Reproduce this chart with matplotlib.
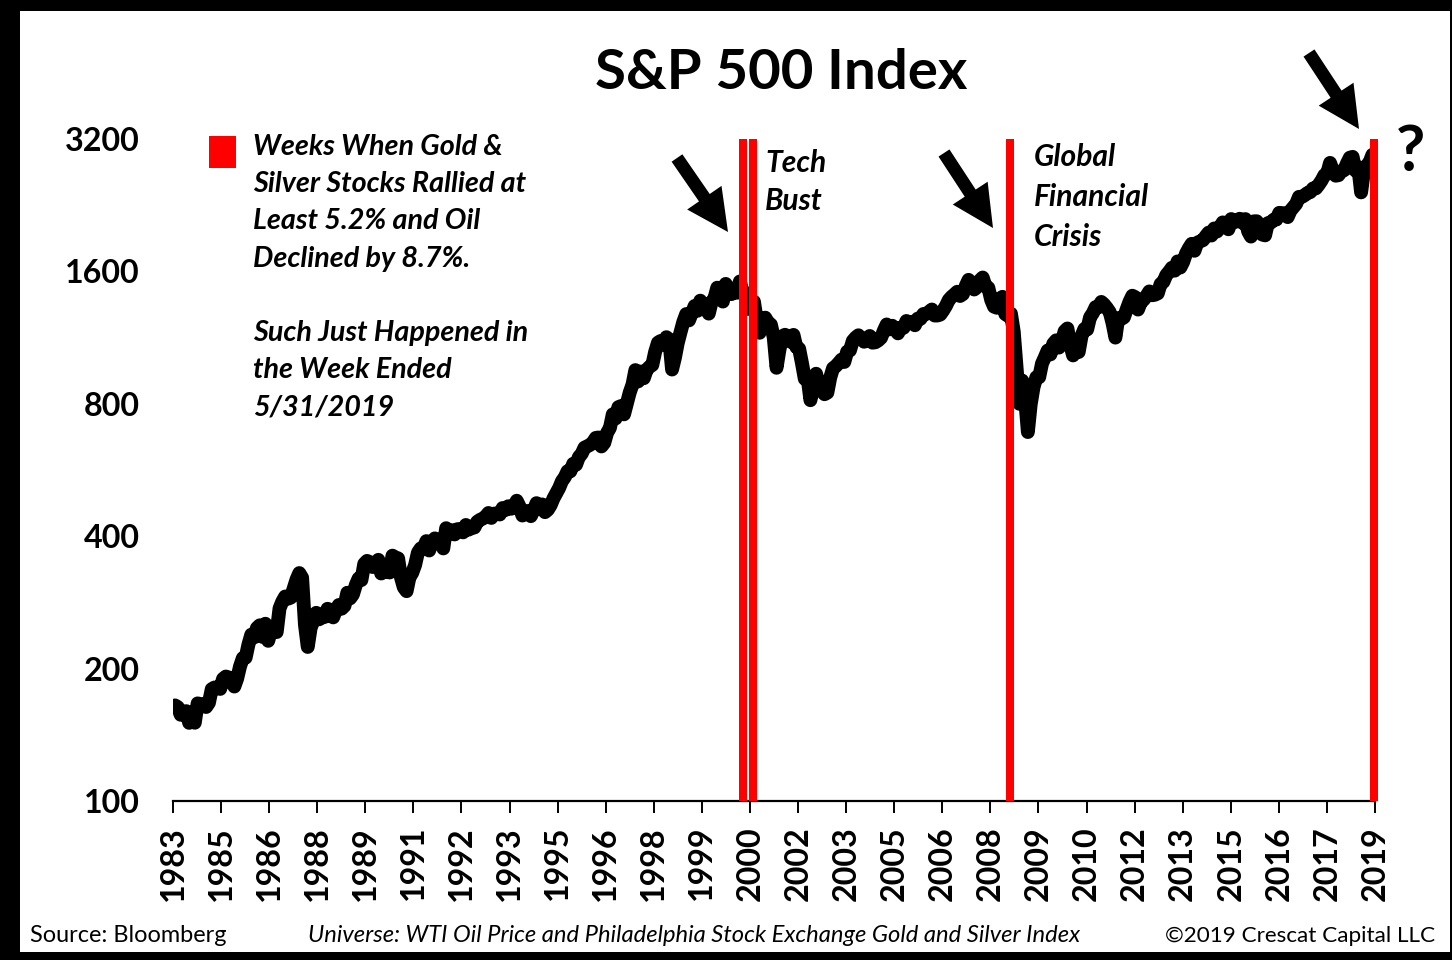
import matplotlib
matplotlib.use('Agg')
import matplotlib.pyplot as plt
import numpy as np
from matplotlib.patches import Rectangle
from matplotlib.ticker import NullLocator

W, H = 1452, 960
FONT = 'Lato'
plt.rcParams['font.family'] = [FONT, 'DejaVu Sans']

# ---------------- data ----------------
# S&P 500 monthly closes (first value = Dec-1983 month end)
first_point_year = 1984.0
sp500_1980s = [164.93,
               163.41, 157.06, 159.18, 160.05, 150.55, 153.18, 150.66, 166.68, 166.10, 166.09, 163.58, 167.24,
               179.63, 181.18, 180.66, 179.83, 189.55, 191.85, 190.92, 188.63, 182.08, 189.82, 202.17, 211.28,
               211.78, 226.92, 238.90, 235.52, 247.35, 250.84, 236.12, 252.93, 231.32, 243.98, 249.22, 242.17,
               274.08, 284.20, 291.70, 288.36, 290.10, 304.00, 318.66, 329.80, 321.83, 251.79, 224.00, 247.08,
               257.07, 267.82, 258.89, 261.33, 262.16, 273.50, 272.02, 261.52, 271.91, 278.97, 273.70, 277.72,
               297.47, 288.86, 294.87, 309.64, 320.52, 317.98, 346.08, 351.45, 349.15, 340.36, 345.99, 353.40]
sp500_1990s = [329.08, 331.89, 339.94, 330.80, 361.23, 358.02, 356.15, 322.56, 306.05, 300.00, 322.22, 330.22,
               343.93, 367.07, 375.22, 375.35, 389.83, 371.16, 387.81, 395.43, 387.86, 392.46, 375.22, 417.09,
               408.79, 412.70, 403.69, 414.95, 415.35, 408.14, 424.21, 414.03, 417.80, 418.68, 431.35, 435.71,
               438.78, 443.38, 451.67, 440.19, 450.19, 450.53, 448.13, 463.56, 458.93, 467.83, 461.79, 466.45,
               481.61, 467.14, 445.77, 450.91, 456.50, 444.27, 458.26, 475.49, 462.69, 472.35, 453.69, 459.27,
               470.42, 487.39, 500.71, 514.71, 533.40, 544.75, 562.06, 561.88, 584.41, 581.50, 605.37, 615.93,
               636.02, 640.43, 645.50, 654.17, 669.12, 670.63, 639.95, 651.99, 687.31, 705.27, 757.02, 740.74,
               786.16, 790.82, 757.12, 801.34, 848.28, 885.14, 954.29, 899.47, 947.28, 914.62, 955.40, 970.43,
               980.28, 1049.34, 1101.75, 1111.75, 1090.82, 1133.84, 1120.67, 957.28, 1017.01, 1098.67, 1163.63, 1229.23,
               1279.64, 1238.33, 1286.37, 1335.18, 1301.84, 1372.71, 1328.72, 1320.41, 1282.71, 1362.93, 1388.91, 1469.25]
sp500_2000s = [1394.46, 1366.42, 1498.58, 1452.43, 1420.60, 1454.60, 1430.83, 1517.68, 1436.51, 1429.40, 1314.95, 1320.28,
               1366.01, 1239.94, 1160.33, 1249.46, 1255.82, 1224.42, 1211.23, 1133.58, 966.00, 1059.78, 1139.45, 1148.08,
               1130.20, 1106.73, 1147.39, 1076.92, 1067.14, 989.82, 911.62, 916.07, 815.28, 885.76, 936.31, 879.82,
               855.70, 841.15, 848.18, 916.92, 963.59, 974.50, 990.31, 1008.01, 995.97, 1050.71, 1058.20, 1111.92,
               1131.13, 1144.94, 1126.21, 1107.30, 1120.68, 1140.84, 1101.72, 1104.24, 1114.58, 1130.20, 1173.82, 1211.92,
               1181.27, 1203.60, 1180.59, 1156.85, 1191.50, 1191.33, 1234.18, 1220.33, 1228.81, 1207.01, 1249.48, 1248.29,
               1280.08, 1280.66, 1294.83, 1310.61, 1270.09, 1270.20, 1276.66, 1303.82, 1335.85, 1377.94, 1400.63, 1418.30,
               1438.24, 1406.82, 1420.86, 1482.37, 1530.62, 1503.35, 1455.27, 1473.99, 1526.75, 1549.38, 1481.14, 1468.36,
               1378.55, 1330.63, 1322.70, 1385.59, 1400.38, 1280.00, 1267.38, 1282.83, 1166.36, 968.75, 800.00, 903.25,
               825.88, 690.00, 797.87, 872.81, 919.14, 919.32, 987.48, 1020.62, 1057.08, 1036.19, 1095.63, 1115.10]
sp500_2010s = [1073.87, 1104.49, 1169.43, 1186.69, 1089.41, 1030.71, 1101.60, 1049.33, 1141.20, 1183.26, 1180.55, 1257.64,
               1286.12, 1327.22, 1325.83, 1363.61, 1345.20, 1320.64, 1292.28, 1218.89, 1131.42, 1253.30, 1246.96, 1257.60,
               1312.41, 1365.68, 1408.47, 1397.91, 1310.33, 1362.16, 1379.32, 1406.58, 1440.67, 1412.16, 1416.18, 1426.19,
               1498.11, 1514.68, 1569.19, 1597.57, 1630.74, 1606.28, 1685.73, 1632.97, 1681.55, 1756.54, 1805.81, 1848.36,
               1782.59, 1859.45, 1872.34, 1883.95, 1923.57, 1960.23, 1930.67, 2003.37, 1972.29, 2018.05, 2067.56, 2058.90,
               1994.99, 2104.50, 2067.89, 2085.51, 2107.39, 2063.11, 2103.84, 1972.18, 1920.03, 2079.36, 2080.41, 2043.94,
               1940.24, 1932.23, 2059.74, 2065.30, 2096.95, 2098.86, 2173.60, 2170.95, 2168.27, 2126.15, 2198.81, 2238.83,
               2278.87, 2363.64, 2362.72, 2384.20, 2411.80, 2423.41, 2470.30, 2471.65, 2519.36, 2575.26, 2647.58, 2673.61,
               2823.81, 2713.83, 2640.87, 2648.05, 2705.27, 2718.37, 2816.29, 2901.52, 2913.98, 2711.74, 2760.17, 2420.00,
               2704.10, 2784.49, 2834.40, 2945.83, 2752.06]

# weeks flagged (gold & silver stocks +5.2%, oil -8.7%), in fractional years
signal_weeks = [2000.75, 2001.06, 2008.64, 2019.37]

x_tick_labels = ['1983', '1985', '1986', '1988', '1989', '1991', '1992', '1993', '1995',
                 '1996', '1998', '1999', '2000', '2002', '2003', '2005', '2006', '2008',
                 '2009', '2010', '2012', '2013', '2015', '2016', '2017', '2019']
y_ticks = [100, 200, 400, 800, 1600, 3200]
x_start, x_end = 1983.94, 2019.41

legend_lines = ['Weeks When Gold &', 'Silver Stocks Rallied at', 'Least 5.2% and Oil',
                'Declined by 8.7%.', '', 'Such Just Happened in', 'the Week Ended', '5/31/2019']

# ---------------- figure ----------------
fig = plt.figure(figsize=(W / 100, H / 100), dpi=100)
fig.patch.set_facecolor('black')
fig.patches.append(Rectangle((20 / W, (H - 952) / H), 1430 / W, 941 / H,
                             transform=fig.transFigure, facecolor='white',
                             edgecolor='none', zorder=-5))


def fx(px):
    return px / W


def fy(py):
    return 1 - py / H


renderer = fig.canvas.get_renderer()


def fit_size(txt, target_px, **kw):
    t = fig.text(0, 0, txt, fontsize=20, **kw)
    w = t.get_window_extent(renderer=renderer).width
    t.remove()
    return 20 * target_px / w


ax = fig.add_axes([fx(173), fy(801), (1375 - 173) / W, (801 - 139) / H])
ax.set_facecolor('none')

values = np.array(sp500_1980s + sp500_1990s + sp500_2000s + sp500_2010s)
xs = first_point_year + np.arange(len(values)) / 12.0

ax.plot(xs, values, color='black', lw=10, solid_joinstyle='round',
        solid_capstyle='round', zorder=2)
bars = ax.bar(signal_weeks, [y_ticks[-1] - y_ticks[0]] * len(signal_weeks), bottom=y_ticks[0],
              width=0.23, color='#ff0000', zorder=3, linewidth=0)
for b in bars:
    b.set_clip_on(False)

ax.set_yscale('log', base=2)
ax.set_ylim(y_ticks[0], y_ticks[-1])
ax.set_xlim(x_start, x_end)
ax.yaxis.set_minor_locator(NullLocator())
ax.xaxis.set_minor_locator(NullLocator())

tick_fs = fit_size('3200', 75, fontweight='bold')
ax.set_yticks(y_ticks)
ax.set_yticklabels([str(v) for v in y_ticks], fontsize=tick_fs, fontweight='bold')
ax.tick_params(axis='y', length=0, pad=33 * 0.72)
ax.set_xticks(np.linspace(x_start, x_end, len(x_tick_labels)))
ax.set_xticklabels(x_tick_labels, rotation=90, fontsize=tick_fs, fontweight='bold')
ax.tick_params(axis='x', length=12 * 0.72, width=1.4, direction='out', pad=13 * 0.72,
               color='black')
for s in ['left', 'right', 'top']:
    ax.spines[s].set_visible(False)
ax.spines['bottom'].set_linewidth(1.6)
ax.spines['bottom'].set_color('black')

# title
title_fs = fit_size('S&P 500 Index', 373, fontweight='bold')
fig.text(fx(781), fy(89), 'S&P 500 Index', fontsize=title_fs, fontweight='bold',
         ha='center', va='baseline')

# legend
fig.patches.append(Rectangle((fx(209), fy(168)), 27 / W, 32 / H, transform=fig.transFigure,
                             facecolor='#ff0000', edgecolor='none', zorder=1))
leg_fs = fit_size(legend_lines[0], 250, fontweight='bold', style='italic')
for i, line in enumerate(legend_lines):
    if line:
        fig.text(fx(253), fy(155 + 37.2 * i), line, fontsize=leg_fs, fontweight='bold',
                 style='italic', ha='left', va='baseline')

# annotations
ann_fs = fit_size('Financial', 115, fontweight='bold', style='italic')
for i, line in enumerate(['Tech', 'Bust']):
    fig.text(fx(765), fy(172 + 38.5 * i), line, fontsize=ann_fs, fontweight='bold',
             style='italic', ha='left', va='baseline')
for i, line in enumerate(['Global', 'Financial', 'Crisis']):
    fig.text(fx(1034), fy(166 + 40 * i), line, fontsize=ann_fs, fontweight='bold',
             style='italic', ha='left', va='baseline')
fig.text(fx(1411), fy(171), '?', fontsize=46, fontweight='bold', ha='center', va='baseline')

arrow_style = 'simple,head_length=1.5,head_width=1.5,tail_width=0.47'
for tail, tip in [((677, 158), (728, 232)), ((944, 153), (993, 228)), ((1309, 53), (1359, 129))]:
    ax.annotate('', xy=(tip[0], H - tip[1]), xytext=(tail[0], H - tail[1]),
                xycoords='figure pixels', textcoords='figure pixels',
                arrowprops=dict(arrowstyle=arrow_style, mutation_scale=20, color='black',
                                shrinkA=0, shrinkB=0, linewidth=0))

# footer
src_fs = fit_size('Source: Bloomberg', 197)
fig.text(fx(30), fy(942), 'Source: Bloomberg', fontsize=src_fs, ha='left', va='baseline')
uni = 'Universe: WTI Oil Price and Philadelphia Stock Exchange Gold and Silver Index'
uni_fs = fit_size(uni, 770, style='italic')
fig.text(fx(308), fy(942), uni, fontsize=uni_fs, style='italic', ha='left', va='baseline')
cr = '\u00a92019 Crescat Capital LLC'
cr_fs = fit_size(cr, 270)
fig.text(fx(1435), fy(942), cr, fontsize=cr_fs, ha='right', va='baseline')

fig.savefig('out.png', dpi=100, facecolor=fig.get_facecolor())
